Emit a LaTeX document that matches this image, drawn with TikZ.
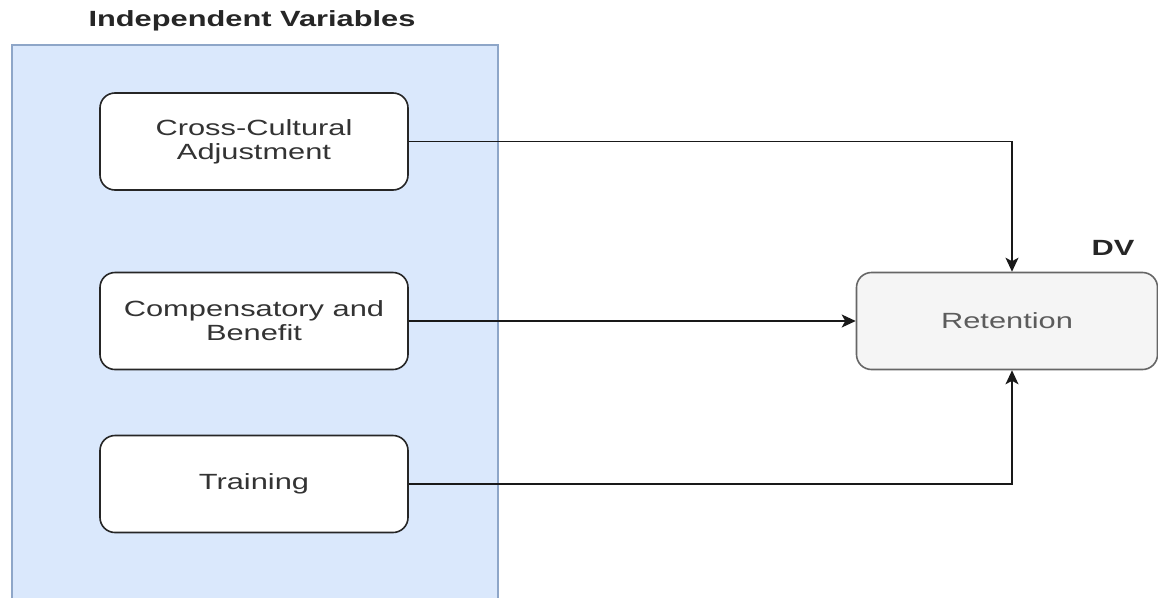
\documentclass[tikz,border=0pt]{standalone}
\usepackage{fontspec}
\setmainfont{Liberation Sans}[FakeStretch=1.4]
\usetikzlibrary{arrows.meta}

\definecolor{ivfill}{HTML}{DAE8FC}
\definecolor{ivline}{HTML}{8EA6C8}
\definecolor{dvfill}{HTML}{F5F5F5}
\definecolor{dvline}{HTML}{666666}
\definecolor{txtgray}{HTML}{333333}

\begin{document}
\begin{tikzpicture}[x=1pt,y=-1pt]
        \tikzstyle{every node}=[font=\fontsize{22}{24}\selectfont]
        \tikzstyle{ivgroup}=[rectangle,draw=ivline,fill=ivfill,line width=1.2pt,inner sep=0pt,minimum width=486pt,minimum height=560pt]
        \tikzstyle{ivbox}=[rectangle,rounded corners=15pt,draw=black!85,fill=white,line width=1.6pt,inner sep=0pt,minimum width=308pt,minimum height=97pt,align=center,text=txtgray]
        \tikzstyle{dvbox}=[ivbox,draw=dvline,fill=dvfill,minimum width=301pt,text=txtgray!80]
        \tikzstyle{caption}=[font=\fontsize{22}{24}\selectfont\bfseries,text=black!85]
        \tikzstyle{arr}=[-{Stealth[length=14pt,width=13pt,inset=3.5pt]},line width=1.4pt,draw=black!90]
        \useasboundingbox (0,0) rectangle (1158,597);
        \node[ivgroup] (group) at (255,325) {};
        \node[caption] (ivtitle) at (252,21) {Independent Variables};
        \node[ivbox] (cross) at (254,141.5) {Cross-Cultural\\Adjustment};
        \node[ivbox] (comp) at (254,321) {Compensatory and\\Benefit};
        \node[ivbox] (train) at (254,484) {Training};
        \node[dvbox] (ret) at (1007,321) {Retention};
        \node[caption] (dvtitle) at (1113,248) {DV};
        \draw[arr] (cross.east) -| ([xshift=5pt]ret.north);
        \draw[arr] (comp.east) -- (ret.west);
        \draw[arr] (train.east) -| ([xshift=5pt]ret.south);
\end{tikzpicture}
\end{document}
